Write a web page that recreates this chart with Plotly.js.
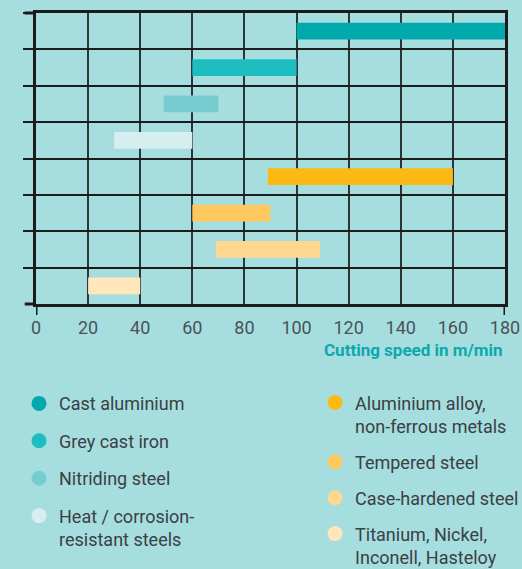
<!DOCTYPE html>
<html>
<head>
<meta charset="utf-8">
<script src="https://cdn.plot.ly/plotly-3.0.1.min.js"></script>
<style>
  html, body { margin: 0; padding: 0; background: #a6dddf; }
  #chart { width: 522px; height: 569px; }
</style>
</head>
<body>
<div id="chart"></div>
<script>
var materials = ['Cast aluminium', 'Grey cast iron', 'Nitriding steel', 'Heat / corrosion-<br>resistant steels',
    'Aluminium alloy,<br>non-ferrous metals', 'Tempered steel', 'Case-hardened steel', 'Titanium, Nickel,<br>Inconell, Hasteloy'];
var speedFrom = [100, 60, 49, 30, 89, 60, 69, 20];
var speedTo   = [180, 100, 70, 60, 160, 90, 109, 40];
var colors = ['#00a9ab', '#1ebdbf', '#75cdcf', '#d6eeef', '#fdb913', '#ffc95f', '#ffd78f', '#ffe6bb'];

var lengths = speedTo.map(function(v, i) { return v - speedFrom[i]; });

var bars = {
    type: 'bar',
    orientation: 'h',
    y: materials,
    x: lengths,
    base: speedFrom,
    width: 0.46,
    marker: {color: colors, line: {width: 0}},
    showlegend: false,
    hoverinfo: 'skip'
};

// dummy traces only for round legend symbols
var legendTraces = materials.map(function(name, i) {
    return {
        type: 'scatter',
        mode: 'markers',
        x: [null], y: [null],
        name: name,
        legendgroup: 'g' + i,
        legend: i < 4 ? 'legend' : 'legend2',
        marker: {color: colors[i], size: 15, symbol: 'circle'},
        hoverinfo: 'skip'
    };
});

var legendBase = {
    orientation: 'v',
    valign: 'top',
    bgcolor: 'rgba(0,0,0,0)',
    font: {family: 'Roboto, sans-serif', size: 18, color: '#3a4043'},
    yanchor: 'top',
    itemclick: false
};

var edge = {color: '#1b1b1b', width: 3};

var layout = {
    width: 522,
    height: 569,
    margin: {l: 36, r: 17, t: 13, b: 265, autoexpand: false},
    paper_bgcolor: '#a6dddf',
    plot_bgcolor: '#a6dddf',
    font: {family: 'Roboto, sans-serif', color: '#434b4e'},
    xaxis: {
        range: [0, 180],
        dtick: 20,
        showgrid: true,
        gridcolor: '#2e3536',
        gridwidth: 2,
        zeroline: false,
        showline: true,
        linecolor: '#1b1b1b',
        linewidth: 3,
        mirror: true,
        ticks: '',
        ticklabelstandoff: 5,
        tickfont: {size: 18, color: '#4a5356'},
        fixedrange: true
    },
    yaxis: {
        type: 'category',
        categoryarray: materials,
        autorange: 'reversed',
        tickson: 'boundaries',
        ticks: 'outside',
        ticklen: 10,
        tickwidth: 2,
        tickcolor: '#1b1b1b',
        showticklabels: false,
        showgrid: true,
        gridcolor: '#1b1b1b',
        gridwidth: 2,
        zeroline: false,
        showline: true,
        linecolor: '#1b1b1b',
        linewidth: 3,
        mirror: true,
        fixedrange: true
    },
    shapes: [
        {type: 'line', xref: 'x', yref: 'paper', x0: 0, x1: 0, y0: -0.038, y1: 0, line: edge},
        {type: 'line', xref: 'x', yref: 'paper', x0: 180, x1: 180, y0: -0.038, y1: 0, line: edge},
        {type: 'line', xref: 'paper', yref: 'paper', x0: -0.024, x1: 0, y0: 0, y1: 0, line: edge},
        {type: 'line', xref: 'paper', yref: 'paper', x0: -0.024, x1: 0, y0: 1, y1: 1, line: edge}
    ],
    annotations: [{
        text: '<b>Cutting speed in m/min</b>',
        xref: 'paper', yref: 'paper',
        x: 1, y: -0.158,
        xanchor: 'right', yanchor: 'middle',
        showarrow: false,
        font: {family: 'Roboto, sans-serif', size: 17, color: '#0aa9ad'}
    }],
    legend: Object.assign({}, legendBase, {x: -0.0362, y: -0.279, tracegroupgap: 11}),
    legend2: Object.assign({}, legendBase, {x: 0.595, y: -0.276, tracegroupgap: 9.5}),
    showlegend: true
};

Plotly.newPlot('chart', [bars].concat(legendTraces), layout, {displayModeBar: false, staticPlot: true});
</script>
</body>
</html>
